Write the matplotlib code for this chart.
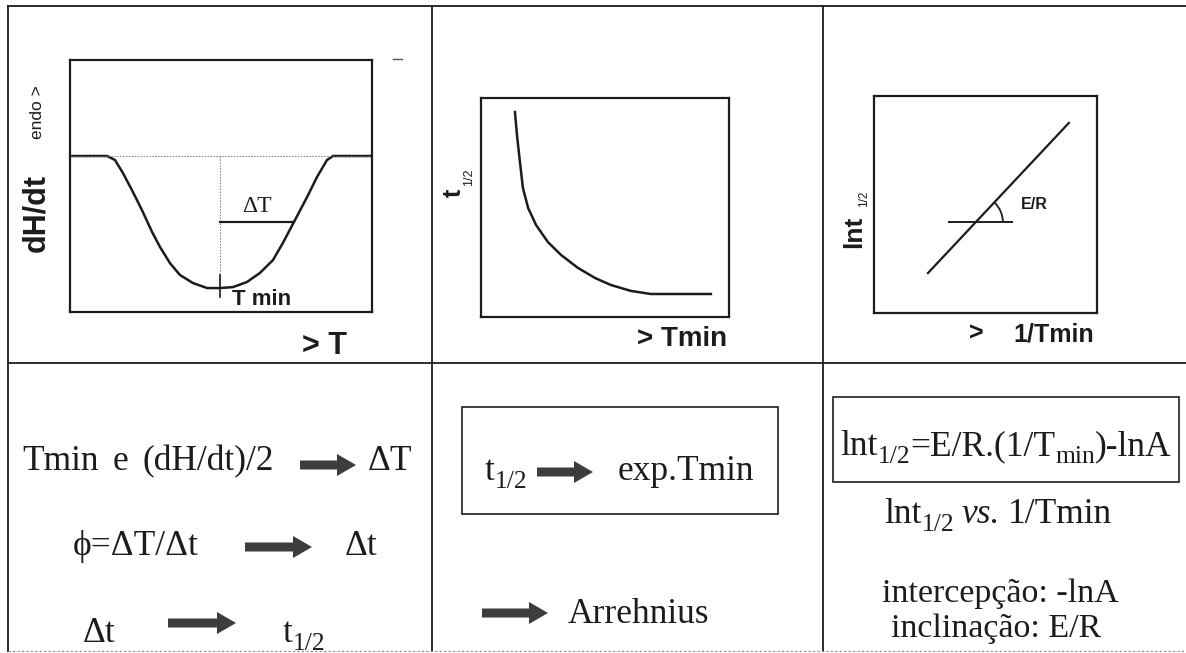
import numpy as np
import matplotlib
matplotlib.use("Agg")
import matplotlib.pyplot as plt
from matplotlib.patches import Arc, FancyArrow, Rectangle

# ---- DSC peak (dH/dt vs T) ----
dsc_T = [0, 12.3, 14.9, 17.5, 20.5, 23.8, 27.2, 29.8, 33.1, 36.4, 40.7, 45.4,
         49.7, 54.0, 58.6, 62.9, 67.2, 70.5, 74.5, 78.5, 81.8, 85.1, 87.1, 100]
dsc_H = [61.9, 61.9, 60.3, 55.2, 48.4, 40.5, 31.7, 25.8, 19.4, 14.7, 11.5, 9.5,
         9.5, 9.9, 11.9, 15.5, 20.6, 27.4, 36.5, 45.6, 53.6, 60.3, 61.9, 61.9]
t_min = 49.7

# ---- half-life vs Tmin ----
tmin_vals = [13.7, 14.5, 15.7, 16.9, 19.0, 22.2, 27.0, 32.3, 39.1, 46.0, 52.4, 60.5, 68.5, 92.7]
half_life = [93.6, 83.1, 70.8, 58.9, 49.8, 42.0, 34.2, 28.3, 22.4, 17.8, 14.6, 11.9, 10.5, 10.5]

# ---- ln t1/2 vs 1/Tmin ----
inv_tmin = [24.2, 87.4]
ln_half = [18.4, 87.6]
ref_level = 41.9
ref_span = [33.6, 61.9]

INK = "#1c1c1c"
SANS = "Liberation Sans"
SERIF = ["Liberation Serif", "DejaVu Serif"]

W, H = 1186, 653
fig = plt.figure(figsize=(W / 100, H / 100), dpi=100)
fig.patch.set_facecolor("white")

# full-figure layer in pixel units for the table frame and captions
ax0 = fig.add_axes([0, 0, 1, 1])
ax0.set_xlim(0, W)
ax0.set_ylim(H, 0)
ax0.axis("off")
renderer = fig.canvas.get_renderer()


def box_axes(x0, y0, x1, y1):
    ax = fig.add_axes([x0 / W, 1 - y1 / H, (x1 - x0) / W, (y1 - y0) / H])
    ax.set_xlim(0, 100)
    ax.set_ylim(0, 100)
    ax.set_xticks([])
    ax.set_yticks([])
    for s in ax.spines.values():
        s.set_linewidth(1.6)
        s.set_color(INK)
    return ax


# table grid
lw_grid = 1.3
ax0.plot([8, W], [6, 6], color=INK, lw=lw_grid)
ax0.plot([8, W], [363, 363], color=INK, lw=lw_grid)
ax0.plot([8, 8], [6, 651], color=INK, lw=lw_grid)
ax0.plot([432, 432], [6, 651], color=INK, lw=lw_grid)
ax0.plot([823, 823], [6, 651], color=INK, lw=lw_grid)
ax0.plot([8, W], [651, 651], color="#888888", lw=0.8, ls=(0, (2, 2)))
ax0.plot([393, 402], [59, 59], color="#555555", lw=1.0)

# ---------------- panel 1 ----------------
ax1 = box_axes(70, 60, 372, 312)
ax1.plot(dsc_T, dsc_H, color=INK, lw=1.8, solid_capstyle="round")
base = dsc_H[0]
ax1.plot([dsc_T[0], dsc_T[-1]], [base, base], color="#777777", lw=0.7, ls=(0, (1.5, 1.5)))
hmin = min(dsc_H)
ax1.plot([t_min, t_min], [base, hmin], color="#777777", lw=0.7, ls=(0, (1.5, 1.5)))
ax1.plot([t_min, t_min], [6.0, 14.7], color=INK, lw=1.2)
half = (base + hmin) / 2
iright = dsc_T.index(t_min)
right_T = dsc_T[iright:]
right_H = dsc_H[iright:]
t_half = np.interp(half, right_H[:-2], right_T[:-2])
ax1.plot([t_min, t_half], [half, half], color=INK, lw=1.6)
ax1.text(61.9, 41.7, "ΔT", family=SERIF, fontsize=17, color=INK, ha="center", va="center")
ax1.text(53.5, 5.0, "T min", family=SANS, fontsize=16, fontweight="bold", color=INK,
         ha="left", va="center")

ax0.text(36, 213, "dH/dt", family=SANS, fontsize=22, fontweight="bold", rotation=90,
         ha="center", va="center", color=INK)
ax0.text(37, 112, "endo >", family=SANS, fontsize=12.5, rotation=90,
         ha="center", va="center", color=INK)
ax0.text(347, 346, "> T", family=SANS, fontsize=22, fontweight="bold",
         ha="right", va="center", color=INK)

# ---------------- panel 2 ----------------
ax2 = box_axes(481, 98, 729, 317)
ax2.plot(tmin_vals, half_life, color=INK, lw=1.8)
ax0.text(454, 193, "t", family=SANS, fontsize=18, fontweight="bold", rotation=90,
         ha="center", va="center", color=INK)
ax0.text(469, 177, "1/2", family=SANS, fontsize=9, rotation=90,
         ha="center", va="center", color=INK)
ax0.text(727, 339, "> Tmin", family=SANS, fontsize=20, fontweight="bold",
         ha="right", va="center", color=INK)

# ---------------- panel 3 ----------------
ax3 = box_axes(874, 96, 1097, 313)
ax3.plot(inv_tmin, ln_half, color=INK, lw=1.6)
ax3.plot(ref_span, [ref_level, ref_level], color=INK, lw=1.4)
slope = (ln_half[1] - ln_half[0]) / (inv_tmin[1] - inv_tmin[0])
x_cross = inv_tmin[0] + (ref_level - ln_half[0]) / slope
ang = np.degrees(np.arctan(slope * (217 / 100) / (223 / 100)))
ax3.add_patch(Arc((x_cross, ref_level), 2 * 27 / 2.23, 2 * 27 / 2.17, theta1=0,
                  theta2=ang, color=INK, lw=1.3))
ax3.text(71.7, 49.8, "E/R", family=SANS, fontsize=11.5, fontweight="bold", color=INK,
         ha="center", va="center")
ax0.text(854, 232, "lnt", family=SANS, fontsize=19, fontweight="bold", rotation=90,
         ha="center", va="center", color=INK)
ax0.text(864, 199, "1/2", family=SANS, fontsize=8.5, rotation=90,
         ha="center", va="center", color=INK)
ax0.text(976, 334, ">", family=SANS, fontsize=18, fontweight="bold",
         ha="center", va="center", color=INK)
ax0.text(1094, 334, "1/Tmin", family=SANS, fontsize=18, fontweight="bold",
         ha="right", va="center", color=INK)


# ---------------- lower row ----------------
def arrow(x0, x1, y, shaft=9, head=22, head_len=19):
    ax0.add_patch(FancyArrow(x0, y, x1 - x0, 0, width=shaft, head_width=head,
                             head_length=head_len, length_includes_head=True,
                             color="#3c3c3c", lw=0))


FS = 25.5
SUB = 0.72
DROP = 8


def rich(x, y, parts, ha="left", fs=FS):
    """Serif text with real subscripts; parts are (text, kind) or a numeric gap."""
    items = []
    for p in parts:
        if isinstance(p, (int, float)):
            items.append((None, p, 0))
            continue
        s, kind = p
        size = fs * SUB if kind == "s" else fs
        t = ax0.text(0, 0, s, family=SERIF, fontsize=size, color=INK, va="baseline",
                     ha="left", style="italic" if kind == "i" else "normal")
        w = t.get_window_extent(renderer).width
        items.append((t, w, DROP if kind == "s" else 0))
    total = sum(w for _, w, _ in items)
    cx = x - total / 2 if ha == "center" else x
    for t, w, dy in items:
        if t is not None:
            t.set_position((cx, y + dy))
        cx += w


rich(22, 470, [("Tmin", "n"), 14, ("e", "n"), 14, ("(dH/dt)/2", "n")])
arrow(300, 356, 465)
rich(368, 470, [("ΔT", "n")])

rich(73, 555, [("ϕ=ΔT/Δt", "n")])
arrow(245, 312, 547)
rich(345, 555, [("Δt", "n")])

rich(83, 642, [("Δt", "n")])
arrow(168, 236, 623)
rich(283, 642, [("t", "n"), ("1/2", "s")])

ax0.add_patch(Rectangle((462, 407), 316, 107, fill=False, ec=INK, lw=1.2))
rich(485, 480, [("t", "n"), ("1/2", "s")])
arrow(537, 593, 472)
rich(618, 480, [("exp.Tmin", "n")])

arrow(482, 548, 613)
rich(568, 623, [("Arrehnius", "n")])

ax0.add_patch(Rectangle((833, 397), 346, 85, fill=False, ec=INK, lw=1.2))
rich(1006, 455, [("lnt", "n"), ("1/2", "s"), ("=E/R.(1/T", "n"), ("min", "s"),
                 (")-lnA", "n")], ha="center")
rich(998, 523, [("lnt", "n"), ("1/2", "s"), 7, ("vs.", "i"), 8, ("1/Tmin", "n")],
     ha="center")
rich(1000, 602, [("intercepção: -lnA", "n")], ha="center", fs=24.5)
rich(996, 637, [("inclinação: E/R", "n")], ha="center", fs=24.5)

fig.savefig("out.png", dpi=100, facecolor="white")
